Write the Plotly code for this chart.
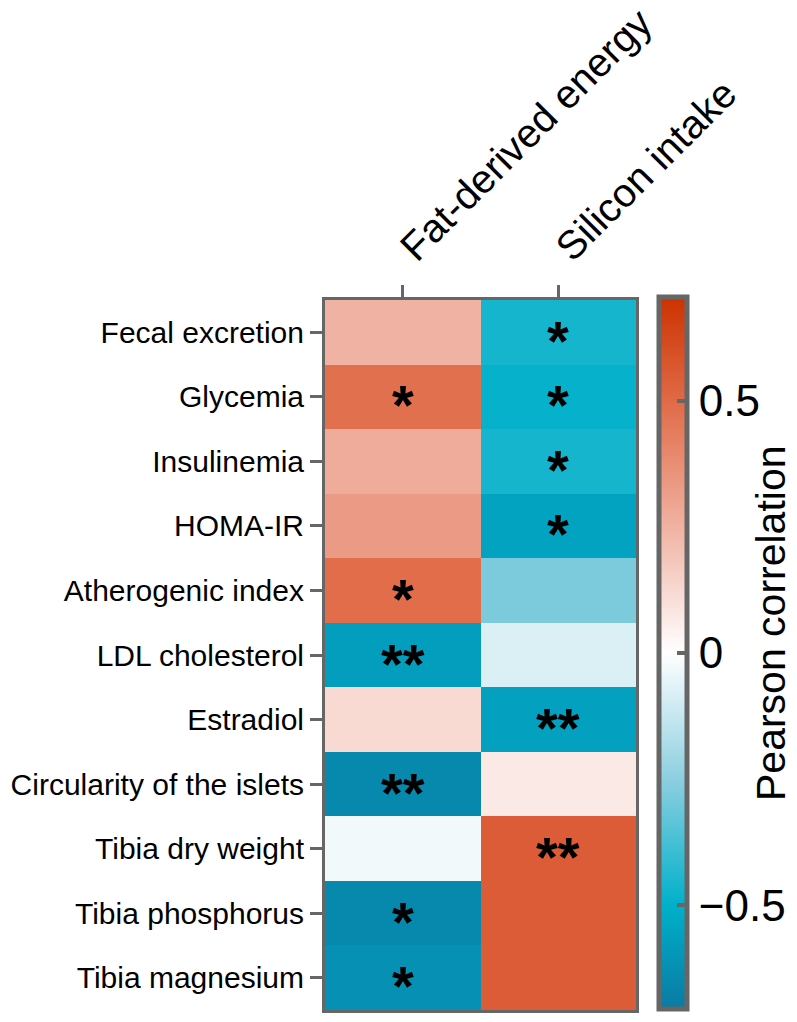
import plotly.graph_objects as go

rows = ["Fecal excretion", "Glycemia", "Insulinemia", "HOMA-IR", "Atherogenic index",
        "LDL cholesterol", "Estradiol", "Circularity of the islets", "Tibia dry weight",
        "Tibia phosphorus", "Tibia magnesium"]
cols = ["Fat-derived energy", "Silicon intake"]

fat_energy = [0.25, 0.48, 0.27, 0.33, 0.49, -0.57, 0.12, -0.65, -0.03, -0.65, -0.62]
silicon = [-0.46, -0.49, -0.46, -0.55, -0.28, -0.08, -0.56, 0.07, 0.55, 0.55, 0.55]

sig_fat = ["", "*", "", "", "*", "**", "", "**", "", "*", "*"]
sig_si = ["*", "*", "*", "*", "", "", "**", "", "**", "", ""]

zmin, zmax = -0.705, 0.705

z = [[f, s] for f, s in zip(fat_energy, silicon)]

def norm(v):
    return (v - zmin) / (zmax - zmin)

colorscale = [
    [0.0, "#0a7aa3"],
    [norm(-0.5), "#00b0ca"],
    [norm(-0.25), "#8ccfe0"],
    [norm(0.0), "#ffffff"],
    [norm(0.25), "#f0b2a2"],
    [norm(0.5), "#e06a47"],
    [1.0, "#cc3200"],
]

W, H = 797, 1022
L, R, T, B = 325, 161, 300, 12
pw, ph = W - L - R, H - T - B
FONT = "Liberation Sans, Arial"

fig = go.Figure()
fig.add_trace(go.Heatmap(
    z=z, x=cols, y=rows, zmin=zmin, zmax=zmax, colorscale=colorscale,
    colorbar=dict(
        x=(659 - L) / pw, xanchor="left", xpad=0,
        y=(H - B - 653) / ph, yanchor="middle", ypad=0,
        lenmode="pixels", len=712, thickness=28,
        outlinewidth=5, outlinecolor="#666666",
        tickvals=[-0.5, 0, 0.5], ticktext=["\u22120.5", "0", "0.5"],
        ticks="inside", ticklen=12, tickwidth=4, tickcolor="#666666",
        tickfont=dict(size=44, color="black", family=FONT),
    ),
    hoverinfo="skip",
))

fig.add_annotation(text="Pearson correlation", xref="paper", yref="paper",
                   x=(771 - L) / pw, y=(H - B - 623) / ph, textangle=-90,
                   showarrow=False, xanchor="center", yanchor="middle",
                   font=dict(size=41, color="black", family=FONT))

for r, sf, ss in zip(rows, sig_fat, sig_si):
    for c, s in ((cols[0], sf), (cols[1], ss)):
        if s:
            fig.add_annotation(x=c, y=r, text="<b>" + s + "</b>", showarrow=False, yshift=-8,
                               font=dict(size=56, color="black", family=FONT))

axis_style = dict(showline=True, linecolor="#666666", linewidth=3, mirror=True,
                  ticks="outside", ticklen=12, tickwidth=2.5, tickcolor="#666666",
                  showgrid=False, zeroline=False)

fig.update_xaxes(side="top", tickangle=-45, range=[-0.5, len(cols) - 0.5],
                 tickfont=dict(size=40, color="black", family=FONT),
                 **axis_style)
fig.update_yaxes(range=[len(rows) - 0.5, -0.5],
                 tickfont=dict(size=30, color="black", family=FONT),
                 **axis_style)

fig.update_layout(
    width=W, height=H,
    margin=dict(l=L, r=R, t=T, b=B, autoexpand=False),
    paper_bgcolor="white", plot_bgcolor="white",
)

fig.write_html("out.html")
